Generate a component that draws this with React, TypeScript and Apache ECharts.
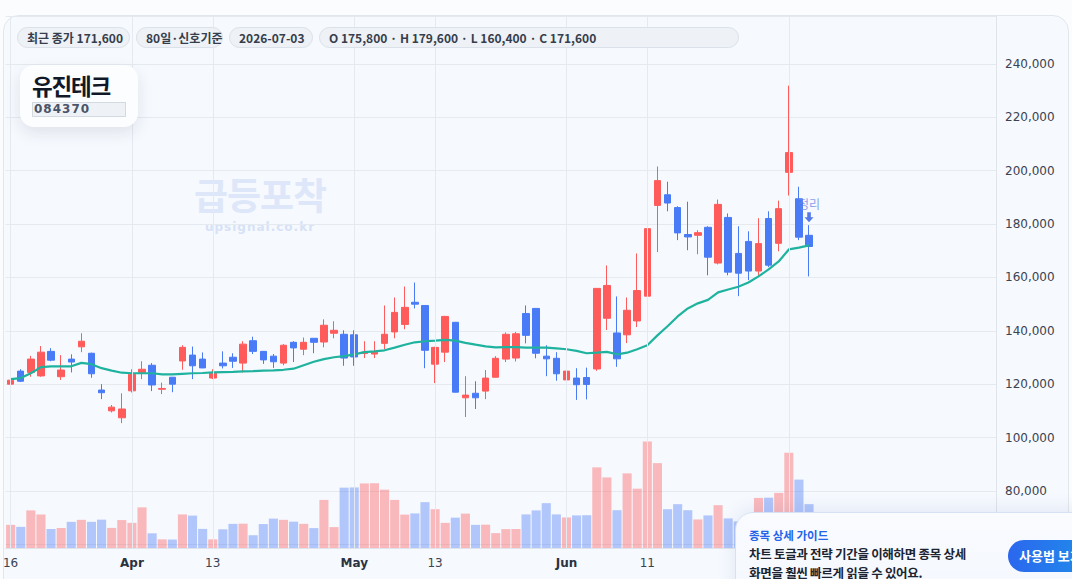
import React, { useEffect, useRef } from "react";
import * as echarts from "echarts";

// ---- calendar (trading days) ----
const marDays = [16, 17, 18, 19, 20, 23, 24, 25, 26, 27, 30, 31];
const aprDays = [1, 2, 3, 6, 7, 8, 9, 10, 13, 14, 15, 16, 17, 20, 21, 22, 23, 24, 27, 28, 29, 30];
const mayDays = [1, 4, 5, 6, 7, 8, 11, 12, 13, 14, 15, 18, 19, 20, 21, 22, 25, 26, 27, 28, 29];
const junDays = [1, 2, 3, 4, 5, 8, 9, 10, 11, 12, 15, 16, 17, 18, 19, 22, 23, 24, 25, 26, 29, 30];
const julDays = [1, 2, 3];
const rightPadSlots = 18;

const p2 = (n: number) => (n < 10 ? "0" + n : "" + n);
const dates: string[] = [
  ...marDays.map((d) => `2026-03-${p2(d)}`),
  ...aprDays.map((d) => `2026-04-${p2(d)}`),
  ...mayDays.map((d) => `2026-05-${p2(d)}`),
  ...junDays.map((d) => `2026-06-${p2(d)}`),
  ...julDays.map((d) => `2026-07-${p2(d)}`),
];

// ---- OHLC ----
const opens = [
  120000, 124900, 124400, 123100, 132300, 122800, 129400, 134000, 131600, 117800,
  110000, 107400, 117500, 124400, 127100, 118100, 122600, 128700, 130900, 129400,
  122300, 127900, 130100, 127900, 136300, 132300, 130500, 127900, 135700, 133100,
  137200, 135800, 139100, 138700, 138500, 131500, 131300, 135300, 139600, 142400,
  150700, 149500, 127500, 132000, 143200, 114900, 116600, 117400, 122600, 129400,
  129800, 146500, 148400, 130500, 129700, 121600, 122300, 122500, 125700, 144700,
  139200, 138500, 143700, 153000, 187000, 191000, 186200, 176100, 175800, 178800,
  165400, 182500, 169000, 173500, 162400, 182100, 172800, 199400, 189500, 175800,
];
const closes = [
  121500, 121100, 129400, 132000, 129000, 125300, 128300, 136100, 123900, 116800,
  111400, 110700, 123700, 125600, 119700, 118400, 120000, 133800, 126900, 126100,
  124100, 126900, 128600, 135000, 132300, 129100, 128400, 134600, 133600, 135700,
  135700, 142100, 140200, 129800, 130200, 132000, 132000, 138700, 146900, 148800,
  150000, 132700, 133800, 145400, 117000, 115900, 114900, 122300, 129700, 138700,
  138900, 138300, 131600, 129500, 123900, 124900, 119800, 119900, 155900, 157000,
  129500, 147700, 155100, 178300, 196300, 187900, 176700, 175200, 176800, 167600,
  187400, 162000, 161600, 162400, 172700, 164600, 185800, 206800, 175100, 171600,
];
const lows = [
  116300, 120800, 122800, 122800, 128600, 121600, 124400, 132000, 122400, 114400,
  109400, 105400, 116900, 121900, 117400, 116300, 117000, 125400, 121900, 126000,
  121900, 125900, 126100, 124400, 131300, 127600, 126100, 127100, 128300, 130900,
  131600, 133800, 137200, 126900, 126900, 129800, 129800, 133100, 137200, 140600,
  148400, 126000, 120400, 128300, 116900, 107700, 110700, 114400, 122500, 128300,
  128500, 135300, 129700, 123000, 121300, 117900, 114100, 114300, 125000, 140300,
  126500, 135400, 141400, 151800, 169500, 184800, 174000, 170200, 168700, 160800,
  164900, 160800, 153000, 159000, 160300, 163900, 169800, 190700, 174000, 160400,
];
const highs = [
  123000, 125600, 130600, 134300, 133500, 130900, 131200, 139100, 131800, 120000,
  112200, 116600, 125600, 128600, 127900, 120600, 122700, 134600, 134100, 131900,
  125600, 132300, 131600, 136100, 137800, 132400, 131300, 135000, 136100, 137500,
  137300, 144300, 143600, 140200, 140200, 136100, 136100, 149500, 152500, 156600,
  158100, 149600, 134000, 145600, 143300, 123000, 121100, 125300, 130500, 139400,
  139600, 149500, 148500, 134600, 132000, 130500, 126000, 126200, 156000, 164500,
  152900, 152500, 169000, 182900, 201600, 195900, 186700, 188400, 177700, 179200,
  189200, 184000, 179200, 177300, 182200, 184800, 188800, 231900, 194000, 179600,
];
const volumes = [
  115000, 105000, 187000, 166000, 94000, 99000, 130000, 140000, 130000, 141000,
  100000, 139000, 125000, 202000, 73000, 43000, 42000, 167000, 161000, 95000,
  43000, 93000, 120000, 121000, 63000, 119000, 146000, 140000, 131000, 120000,
  99000, 239000, 104000, 300000, 301000, 321000, 322000, 290000, 239000, 166000,
  172000, 228000, 193000, 125000, 151000, 171000, 115000, 116000, 74000, 94000,
  94000, 167000, 187000, 223000, 167000, 152000, 162000, 163000, 401000, 351000,
  188000, 371000, 295000, 529000, 422000, 193000, 218000, 188000, 142000, 162000,
  213000, 147000, 132000, 150000, 249000, 250000, 274000, 473000, 340000, 218000,
];
const ma20 = [
  121900, 122300, 124100, 126400, 126700, 126700, 126700, 128000, 127500, 126000,
  125100, 124300, 124100, 124100, 124100, 123700, 123700, 123900, 124100, 124200,
  124400, 124500, 124600, 124800, 124900, 125100, 125200, 125400, 125800, 127100,
  128400, 129400, 130100, 130500, 131200, 132000, 132300, 132700, 133700, 134800,
  135700, 136100, 136300, 136600, 136300, 135500, 134800, 134200, 133800, 133900,
  133900, 133700, 133700, 133700, 133400, 133100, 132500, 131600, 131800, 132100,
  131200, 131800, 133100, 134600, 138300, 141700, 145400, 148400, 150300, 151600,
  154400, 155500, 156500, 158100, 160400, 163000, 166000, 170500, 171200, 172000,
];

// visible time-scale labels
const tickLabels = [
  { date: "2026-03-16", text: "16", bold: false },
  { date: "2026-04-01", text: "Apr", bold: true },
  { date: "2026-04-13", text: "13", bold: false },
  { date: "2026-05-01", text: "May", bold: true },
  { date: "2026-05-13", text: "13", bold: false },
  { date: "2026-06-01", text: "Jun", bold: true },
  { date: "2026-06-11", text: "11", bold: false },
];
// vertical grid lines (the Jul 1 label sits under the guide card)
const gridDates = [...tickLabels.map((t) => t.date), "2026-07-01"];
const minPriceLabel = 80000;

const signalMarker = { date: "2026-07-03", text: "정리" };

const headerChips = [
  "최근 종가 171,600",
  "80일·신호기준",
  "2026-07-03",
  "O 175,800 · H 179,600 · L 160,400 · C 171,600",
];
const chipWidths = [113, 87, 84, 420];

const KR = '"Noto Sans CJK KR", "Noto Sans", sans-serif';
const LAT = '"DejaVu Sans", sans-serif';
const UP = "#ff5b5b";
const DOWN = "#4a7bf6";

export default function App() {
  const ref = useRef<HTMLDivElement>(null);

  useEffect(() => {
    if (!ref.current) return;
    const chart = echarts.init(ref.current, undefined, { renderer: "svg" });
    const pads = Array.from({ length: rightPadSlots }, (_, i) => `pad-${i}`);
    const cats = [...dates, ...pads];
    const labelMap: Record<string, { text: string; bold: boolean }> = {};
    tickLabels.forEach((t) => (labelMap[t.date] = t));

    const candleData = dates.map((_, i) => [opens[i], closes[i], lows[i], highs[i]]);
    const volData = dates.map((_, i) => ({
      value: volumes[i],
      itemStyle: { color: closes[i] >= opens[i] ? "rgba(255,91,91,0.4)" : "rgba(74,123,246,0.4)" },
    }));
    const maxVol = Math.max(...volumes);
    const mi = dates.indexOf(signalMarker.date);

    chart.setOption({
      animation: false,
      backgroundColor: "transparent",
      grid: { left: 3, right: 76, top: 16, bottom: 31, containLabel: false },
      xAxis: {
        type: "category",
        data: cats,
        boundaryGap: true,
        axisLine: { show: true, lineStyle: { color: "#dfe4eb" } },
        axisTick: { show: false },
        splitLine: { show: false },
        axisLabel: {
          interval: (_: number, v: string) => !!labelMap[v],
          formatter: (v: string) => {
            const t = labelMap[v];
            if (!t) return "";
            return t.bold ? `{b|${t.text}}` : `{n|${t.text}}`;
          },
          margin: 9,
          rich: {
            b: { fontFamily: LAT, fontSize: 12, fontWeight: "bold", color: "#2b3240" },
            n: { fontFamily: LAT, fontSize: 12, color: "#3b4250" },
          },
        },
      },
      yAxis: [
        {
          type: "value",
          position: "right",
          min: 58600,
          max: 258000,
          splitNumber: 10,
          scale: true,
          axisLine: { show: true, lineStyle: { color: "#dfe4eb" } },
          axisTick: { show: false },
          splitLine: { show: true, lineStyle: { color: "#e5e9f0", width: 1 } },
          axisLabel: {
            showMinLabel: false,
            showMaxLabel: false,
            margin: 9,
            fontFamily: LAT,
            fontSize: 12,
            color: "#3b4250",
            formatter: (v: number) => (v < minPriceLabel ? "" : v.toLocaleString("en-US")),
          },
        },
        {
          type: "value",
          min: 0,
          max: maxVol * 5,
          show: false,
          splitLine: { show: false },
        },
      ],
      series: [
        {
          type: "bar",
          yAxisIndex: 1,
          data: volData,
          barCategoryGap: "10%",
          z: 1,
          markLine: {
            silent: true,
            symbol: "none",
            label: { show: false },
            lineStyle: { color: "#e5e9f0", width: 1, type: "solid" },
            data: gridDates.map((d) => ({ xAxis: dates.indexOf(d) })),
          },
        },
        {
          type: "candlestick",
          data: candleData,
          barWidth: 7,
          z: 3,
          itemStyle: { color: UP, color0: DOWN, borderColor: UP, borderColor0: DOWN, borderWidth: 1 },
        },
        {
          type: "line",
          data: ma20,
          symbol: "none",
          smooth: false,
          z: 4,
          lineStyle: { color: "#1fb39f", width: 2.2 },
        },
        {
          type: "scatter",
          data: [[mi, highs[mi]]],
          symbol: "path://M3,0 L7,0 L7,5 L10,5 L5,10 L0,5 L3,5 Z",
          symbolSize: [9, 10],
          symbolOffset: [0, -8],
          z: 5,
          itemStyle: { color: "#2c5ade" },
          label: {
            show: true,
            position: "top",
            distance: 3,
            formatter: signalMarker.text,
            fontFamily: KR,
            fontSize: 12,
            color: "#6a8ae2",
          },
        },
      ],
    });
    return () => chart.dispose();
  }, []);

  return (
    <div
      style={{
        position: "fixed",
        left: 0,
        top: 0,
        width: 1072,
        height: 579,
        overflow: "hidden",
        background: "#fbfcfd",
        fontFamily: KR,
      }}
    >
      <div
        style={{
          position: "absolute",
          left: 3,
          top: 15,
          width: 1064,
          height: 620,
          border: "1px solid #e2e7ee",
          borderRadius: 16,
          background: "#f6f9fe",
        }}
      />
      <div style={{ position: "absolute", left: 160, top: 169, width: 200, textAlign: "center" }}>
        <div style={{ fontFamily: KR, fontWeight: 700, fontSize: 37, color: "#dde7f9", lineHeight: "50px", letterSpacing: -1 }}>
          급등포착
        </div>
        <div style={{ fontFamily: LAT, fontWeight: 700, fontSize: 12, color: "#d6e2f6", letterSpacing: 1, lineHeight: "16px" }}>
          upsignal.co.kr
        </div>
      </div>
      <div ref={ref} style={{ position: "absolute", left: 0, top: 0, width: 1072, height: 579 }} />

      <div style={{ position: "absolute", left: 17, top: 27, display: "flex", gap: 6 }}>
        {headerChips.map((c, i) => (
          <div
            key={i}
            style={{
              boxSizing: "border-box",
              width: chipWidths[i],
              height: 21,
              lineHeight: "19px",
              padding: "0 0 0 9px",
              border: "1px solid #dbe1e9",
              borderRadius: 11,
              background: "#eef1f6",
              fontFamily: KR,
              fontWeight: 700,
              fontSize: 12,
              color: "#363e4c",
              whiteSpace: "nowrap",
            }}
          >
            {c}
          </div>
        ))}
      </div>

      <div
        style={{
          position: "absolute",
          left: 20,
          top: 65,
          width: 118,
          height: 62,
          borderRadius: 14,
          background: "#fcfdff",
          boxShadow: "0 6px 16px rgba(30,41,59,0.10)",
        }}
      >
        <div
          style={{
            position: "absolute",
            left: 12,
            top: 5,
            fontFamily: KR,
            fontWeight: 700,
            fontSize: 22.5,
            letterSpacing: -1.2,
            lineHeight: "30px",
            color: "#111827",
          }}
        >
          유진테크
        </div>
        <div
          style={{
            position: "absolute",
            left: 12,
            top: 37,
            width: 94,
            height: 15,
            boxSizing: "border-box",
            border: "1px solid #d3d9e1",
            background: "#eef2f7",
            fontFamily: LAT,
            fontWeight: 700,
            fontSize: 12,
            lineHeight: "13px",
            letterSpacing: 1,
            color: "#4a5467",
            paddingLeft: 1,
          }}
        >
          084370
        </div>
      </div>

      <div
        style={{
          position: "absolute",
          left: 735,
          top: 512,
          width: 380,
          height: 120,
          boxSizing: "border-box",
          borderRadius: 18,
          border: "1px solid #d5e1f4",
          background: "linear-gradient(180deg, #f9fbff 0%, #f2f6fd 100%)",
          boxShadow: "0 -2px 18px rgba(37,70,160,0.10)",
        }}
      >
        <div style={{ position: "absolute", left: 13, top: 13, fontFamily: KR, fontWeight: 700, fontSize: 11.5, color: "#2563eb", lineHeight: "18px" }}>
          종목 상세 가이드
        </div>
        <div
          style={{
            position: "absolute",
            left: 13,
            top: 31,
            fontFamily: KR,
            fontWeight: 700,
            fontSize: 12.5,
            letterSpacing: -0.3,
            lineHeight: "19px",
            color: "#1c2431",
            whiteSpace: "nowrap",
          }}
        >
          차트 토글과 전략 기간을 이해하면 종목 상세
          <br />
          화면을 훨씬 빠르게 읽을 수 있어요.
        </div>
        <div
          style={{
            position: "absolute",
            left: 272,
            top: 27,
            width: 120,
            height: 32,
            borderRadius: 16,
            background: "linear-gradient(90deg, #2b67ee 0%, #1b9ce8 100%)",
            color: "#ffffff",
            fontFamily: KR,
            fontWeight: 700,
            fontSize: 13,
            lineHeight: "32px",
            paddingLeft: 11,
            boxSizing: "border-box",
            whiteSpace: "nowrap",
          }}
        >
          사용법 보기
        </div>
      </div>
    </div>
  );
}
